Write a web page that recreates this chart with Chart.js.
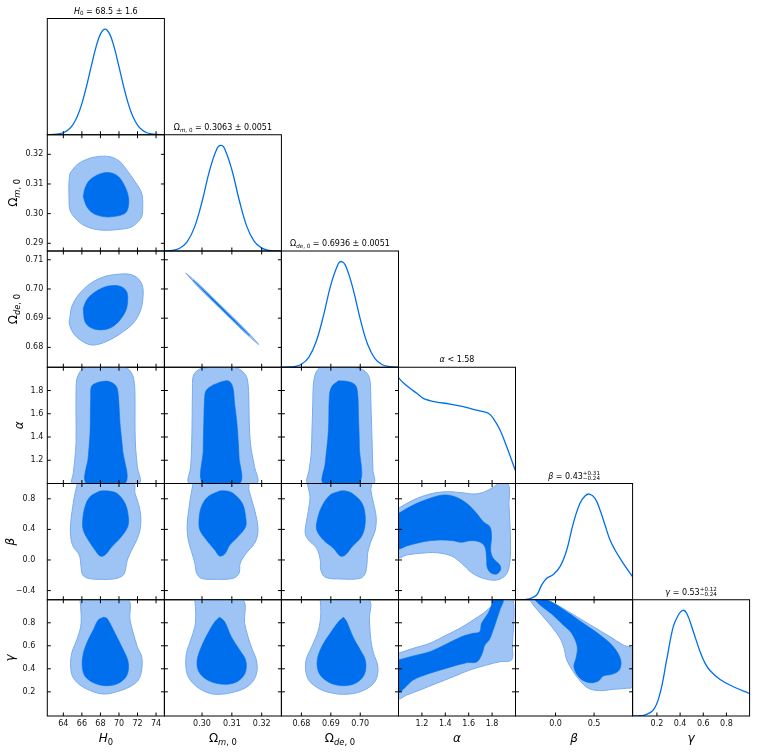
<!DOCTYPE html>
<html>
<head>
<meta charset="utf-8">
<script src="https://cdn.jsdelivr.net/npm/chart.js@4.4.1/dist/chart.umd.min.js"></script>
<style>
    html, body { margin: 0; padding: 0; background: #fff; }
    #wrap { position: relative; width: 757px; height: 752px; }
    #wrap canvas { position: absolute; left: 0; top: 0; }
</style>
</head>
<body>
<div id="wrap"></div>
<script>
// ---- 1D marginals (peak normalised to 1) ----
const h0Grid = [62.3, 63, 63.5, 64, 64.5, 65, 65.5, 66, 66.5, 67, 67.5, 68, 68.5, 69, 69.5, 70, 70.5, 71, 71.5, 72, 72.5, 73, 73.5, 74, 74.9];
const h0Dens = [0.001, 0.003, 0.008, 0.019, 0.044, 0.091, 0.172, 0.295, 0.458, 0.644, 0.822, 0.952, 1, 0.952, 0.822, 0.644, 0.458, 0.295, 0.172, 0.091, 0.044, 0.019, 0.008, 0.003, 0.001];
const omGrid = [0.2874, 0.290, 0.2925, 0.295, 0.2975, 0.300, 0.3025, 0.305, 0.3063, 0.3075, 0.310, 0.3125, 0.315, 0.3175, 0.320, 0.3225, 0.325, 0.3266];
const omDens = [0.001, 0.006, 0.026, 0.086, 0.226, 0.466, 0.758, 0.968, 1, 0.973, 0.769, 0.478, 0.233, 0.090, 0.027, 0.006, 0.001, 0.0004];
const odeGrid = [0.6733, 0.675, 0.6775, 0.680, 0.6825, 0.685, 0.6875, 0.690, 0.6925, 0.6936, 0.695, 0.6975, 0.700, 0.7025, 0.705, 0.7075, 0.710, 0.713];
const odeDens = [0.0004, 0.0013, 0.0069, 0.029, 0.094, 0.241, 0.489, 0.780, 0.977, 1, 0.963, 0.747, 0.455, 0.218, 0.082, 0.024, 0.0057, 0.0007];
const alGrid = [1.0, 1.041, 1.098, 1.156, 1.212, 1.269, 1.326, 1.44, 1.554, 1.64, 1.725, 1.768, 1.81, 1.868, 1.925, 2.0];
const alDens = [1.0, 0.954, 0.901, 0.853, 0.806, 0.784, 0.771, 0.752, 0.727, 0.702, 0.679, 0.664, 0.617, 0.506, 0.348, 0.12];
const beGrid = [-0.52, -0.4, -0.332, -0.245, -0.18, -0.115, -0.029, 0.058, 0.145, 0.23, 0.317, 0.382, 0.438, 0.512, 0.577, 0.642, 0.707, 0.772, 0.837, 0.923, 1.0];
const beDens = [0, 0.002, 0.01, 0.045, 0.14, 0.203, 0.24, 0.313, 0.471, 0.723, 0.912, 0.981, 1, 0.96, 0.849, 0.707, 0.565, 0.471, 0.392, 0.297, 0.218];
const gaGrid = [-0.01, 0.082, 0.169, 0.227, 0.284, 0.341, 0.385, 0.423, 0.457, 0.514, 0.572, 0.615, 0.658, 0.745, 0.86, 1.0];
const gaDens = [0, 0.005, 0.057, 0.215, 0.53, 0.845, 0.956, 1, 0.972, 0.8, 0.61, 0.5, 0.43, 0.345, 0.277, 0.213];

// ---- 2D contours [x, y]: inner = 68%, outer = 95% ----
const omH0Outer = [[64.72,0.3136],[65.44,0.3164],[66.52,0.3183],[67.6,0.3192],[69.03,0.3192],[70.11,0.3175],[70.84,0.3147],[71.73,0.3108],[72.45,0.3069],[72.56,0.3024],[72.45,0.2990],[71.91,0.2968],[71.19,0.2953],[69.39,0.2945],[67.96,0.2945],[66.52,0.2956],[65.44,0.2979],[64.72,0.3012],[64.61,0.3057],[64.61,0.3108]];
const omH0Inner = [[66.15,0.3057],[66.34,0.3086],[66.88,0.3114],[67.96,0.3134],[69.03,0.3138],[69.93,0.3125],[70.65,0.3091],[71.01,0.3057],[71.01,0.3024],[70.65,0.3001],[69.39,0.2990],[68.31,0.2990],[67.23,0.3001],[66.52,0.3024]];

const odeH0Outer = [[64.72,0.6905],[64.9,0.6939],[65.61,0.6979],[66.88,0.7018],[68.31,0.7041],[69.76,0.7050],[71.19,0.7050],[72.09,0.7035],[72.56,0.7007],[72.56,0.6962],[72.27,0.6922],[71.55,0.6883],[70.47,0.6854],[69.39,0.6832],[67.96,0.6812],[66.88,0.6809],[65.8,0.6826],[65.07,0.6849],[64.64,0.6883]];
const odeH0Inner = [[66.15,0.6934],[66.52,0.6962],[67.23,0.6985],[68.31,0.7005],[69.39,0.7012],[70.3,0.7007],[70.84,0.6990],[70.94,0.6962],[70.76,0.6928],[70.11,0.6894],[69.22,0.6869],[68.14,0.6860],[67.06,0.6866],[66.34,0.6888]];

const odeOmOuter = [[0.2945,0.7055],[0.2990,0.7016],[0.3063,0.6943],[0.3140,0.6866],[0.3190,0.6810],[0.3140,0.6854],[0.3063,0.6931],[0.2990,0.7004]];
const odeOmInner = [[0.2970,0.7030],[0.3063,0.6940],[0.3160,0.6840],[0.3063,0.6934]];

const alH0Outer = [[66.34,2.0],[65.8,1.962],[65.44,1.890],[65.37,1.776],[65.37,1.575],[65.37,1.346],[65.23,1.202],[65.07,1.088],[65.01,1.0],[72.13,1.0],[71.98,1.145],[71.81,1.288],[71.73,1.460],[71.73,1.718],[71.66,1.862],[71.37,1.948],[70.65,2.0]];
const alH0Inner = [[67.77,1.871],[67.06,1.839],[66.95,1.747],[66.88,1.432],[66.69,1.231],[66.52,1.0],[70.65,1.0],[70.4,1.288],[70.11,1.518],[69.93,1.753],[69.68,1.839],[68.82,1.879]];

const alOmOuter = [[0.2998,1.991],[0.2982,1.968],[0.2970,1.919],[0.2968,1.804],[0.2967,1.575],[0.2965,1.288],[0.2962,1.145],[0.2959,1.0],[0.3182,1.0],[0.3176,1.145],[0.3165,1.288],[0.3159,1.460],[0.3157,1.718],[0.3154,1.862],[0.3146,1.933],[0.3126,1.982],[0.3104,2.0],[0.3037,2.0]];
const alOmInner = [[0.3037,1.847],[0.3015,1.804],[0.3009,1.747],[0.3006,1.518],[0.3004,1.288],[0.3004,1.0],[0.3126,1.0],[0.3124,1.231],[0.3117,1.518],[0.3109,1.690],[0.3104,1.819],[0.3093,1.876],[0.3076,1.882]];

const alOdeOuter = [[0.6864,2.0],[0.6850,1.959],[0.6841,1.862],[0.6839,1.718],[0.6836,1.460],[0.6833,1.245],[0.6826,1.116],[0.6823,1.0],[0.7044,1.0],[0.7043,1.116],[0.7040,1.374],[0.7036,1.718],[0.7034,1.865],[0.7027,1.933],[0.7007,1.981],[0.6973,2.0]];
const alOdeInner = [[0.6926,1.884],[0.6903,1.833],[0.6895,1.747],[0.6892,1.460],[0.6881,1.174],[0.6875,1.0],[0.6995,1.0],[0.6997,1.317],[0.6994,1.575],[0.6991,1.776],[0.6983,1.847],[0.6960,1.876]];

const beH0Outer = [[65.51,1.0],[65.26,0.872],[65.01,0.697],[64.79,0.480],[64.79,0.304],[65.07,0.174],[65.72,0.065],[65.91,-0.088],[66.09,-0.196],[66.69,-0.240],[67.96,-0.253],[69.57,-0.245],[70.47,-0.196],[70.76,-0.088],[70.9,0.0],[71.37,0.130],[71.91,0.261],[72.27,0.392],[72.35,0.566],[72.09,0.741],[71.73,0.872],[71.55,1.0]];
const beH0Inner = [[67.96,0.902],[66.88,0.827],[66.34,0.697],[66.09,0.523],[66.15,0.392],[66.69,0.261],[67.42,0.130],[67.96,0.052],[68.49,0.065],[69.22,0.174],[70.11,0.283],[70.94,0.435],[71.01,0.566],[70.65,0.741],[69.76,0.872],[68.85,0.902]];

const beOmOuter = [[0.2970,1.0],[0.2962,0.827],[0.2954,0.610],[0.2950,0.435],[0.2954,0.261],[0.2965,0.108],[0.2976,-0.043],[0.2982,-0.174],[0.2998,-0.240],[0.3048,-0.253],[0.3104,-0.240],[0.3124,-0.174],[0.3128,-0.043],[0.3148,0.087],[0.3176,0.218],[0.3187,0.349],[0.3184,0.523],[0.3170,0.741],[0.3157,0.915],[0.3154,1.0]];
const beOmInner = [[0.3059,0.902],[0.3020,0.827],[0.2998,0.697],[0.2990,0.523],[0.2993,0.392],[0.3015,0.261],[0.3043,0.130],[0.3059,0.052],[0.3076,0.078],[0.3093,0.196],[0.3120,0.304],[0.3146,0.435],[0.3146,0.566],[0.3135,0.741],[0.3104,0.872],[0.3082,0.902]];

const beOdeOuter = [[0.6820,1.0],[0.6829,0.827],[0.6824,0.653],[0.6816,0.480],[0.6813,0.349],[0.6824,0.261],[0.6852,0.153],[0.6864,0.0],[0.6866,-0.131],[0.6881,-0.226],[0.6932,-0.248],[0.7000,-0.240],[0.7017,-0.174],[0.7023,-0.043],[0.7025,0.087],[0.7034,0.218],[0.7051,0.392],[0.7054,0.566],[0.7045,0.741],[0.7036,0.915],[0.7036,1.0]];
const beOdeInner = [[0.6932,0.902],[0.6898,0.850],[0.6869,0.697],[0.6854,0.523],[0.6852,0.392],[0.6875,0.261],[0.6909,0.153],[0.6932,0.052],[0.6949,0.065],[0.6972,0.174],[0.7000,0.283],[0.7013,0.392],[0.7017,0.566],[0.7006,0.741],[0.6972,0.872],[0.6949,0.902]];

const beAlOuter = [[1.0,0.676],[1.126,0.784],[1.269,0.863],[1.411,0.893],[1.539,0.880],[1.653,0.863],[1.738,0.893],[1.809,0.950],[1.852,1.0],[1.937,1.0],[1.945,0.697],[1.957,0.261],[1.951,-0.043],[1.917,-0.196],[1.838,-0.262],[1.724,-0.240],[1.625,-0.166],[1.539,-0.043],[1.454,0.052],[1.326,0.095],[1.183,0.087],[1.070,0.065],[1.0,0.035]];
const beAlInner = [[1.0,0.610],[1.126,0.719],[1.269,0.806],[1.382,0.850],[1.482,0.827],[1.582,0.741],[1.667,0.610],[1.724,0.501],[1.781,0.435],[1.795,0.304],[1.787,0.130],[1.809,0.022],[1.866,-0.066],[1.872,-0.131],[1.838,-0.183],[1.787,-0.166],[1.758,-0.096],[1.753,0.022],[1.738,0.174],[1.689,0.239],[1.610,0.252],[1.539,0.231],[1.468,0.252],[1.354,0.261],[1.212,0.239],[1.070,0.183],[1.0,0.153]];

const gaH0Outer = [[65.8,1.0],[65.91,0.882],[65.87,0.766],[65.44,0.650],[64.9,0.535],[64.79,0.418],[65.01,0.331],[65.8,0.259],[67.23,0.201],[68.49,0.181],[69.76,0.201],[71.19,0.245],[72.09,0.303],[72.45,0.390],[72.45,0.505],[71.98,0.592],[71.55,0.709],[71.19,0.824],[70.94,1.0]];
const gaH0Inner = [[68.31,0.848],[67.77,0.824],[67.23,0.737],[66.52,0.622],[66.09,0.505],[66.09,0.390],[66.52,0.318],[67.6,0.268],[68.68,0.253],[69.76,0.268],[70.65,0.318],[71.01,0.390],[70.94,0.477],[70.47,0.564],[69.76,0.679],[69.03,0.795],[68.68,0.839]];

const gaOmOuter = [[0.2976,1.0],[0.2979,0.882],[0.2976,0.766],[0.2962,0.650],[0.2948,0.535],[0.2946,0.418],[0.2954,0.331],[0.2982,0.245],[0.3026,0.187],[0.3065,0.179],[0.3104,0.196],[0.3143,0.231],[0.3170,0.289],[0.3184,0.376],[0.3182,0.477],[0.3167,0.578],[0.3154,0.679],[0.3143,0.795],[0.3135,1.0]];
const gaOmInner = [[0.3059,0.848],[0.3043,0.809],[0.3020,0.709],[0.2998,0.592],[0.2984,0.477],[0.2987,0.390],[0.3009,0.318],[0.3048,0.274],[0.3093,0.268],[0.3126,0.303],[0.3146,0.375],[0.3146,0.477],[0.3126,0.564],[0.3098,0.679],[0.3076,0.809]];

const gaOdeOuter = [[0.6864,1.0],[0.6866,0.882],[0.6858,0.737],[0.6835,0.592],[0.6816,0.477],[0.6816,0.361],[0.6829,0.288],[0.6864,0.222],[0.6909,0.187],[0.6954,0.179],[0.7000,0.201],[0.7040,0.259],[0.7057,0.331],[0.7059,0.433],[0.7045,0.535],[0.7036,0.650],[0.7031,0.824],[0.7028,1.0]];
const gaOdeInner = [[0.6943,0.848],[0.6926,0.809],[0.6898,0.709],[0.6869,0.592],[0.6854,0.477],[0.6858,0.375],[0.6881,0.303],[0.6920,0.259],[0.6966,0.259],[0.7000,0.303],[0.7017,0.375],[0.7017,0.477],[0.7000,0.564],[0.6975,0.679],[0.6954,0.809]];

const gaAlOuter = [[1.0,0.535],[1.126,0.578],[1.269,0.622],[1.411,0.694],[1.525,0.752],[1.638,0.824],[1.724,0.882],[1.809,0.954],[1.875,1.0],[1.98,1.0],[1.974,0.592],[1.966,0.477],[1.866,0.462],[1.753,0.433],[1.610,0.390],[1.468,0.331],[1.326,0.274],[1.183,0.216],[1.070,0.172],[1.0,0.144]];
const gaAlInner = [[1.0,0.477],[1.126,0.512],[1.269,0.549],[1.411,0.616],[1.539,0.679],[1.638,0.708],[1.695,0.722],[1.71,0.795],[1.766,0.882],[1.795,0.954],[1.809,1.0],[1.894,1.0],[1.866,0.911],[1.838,0.824],[1.809,0.737],[1.775,0.650],[1.738,0.607],[1.71,0.520],[1.667,0.459],[1.582,0.453],[1.411,0.405],[1.269,0.361],[1.126,0.303],[1.0,0.201]];

const gaBeOuter = [[-0.332,1.0],[-0.137,1.0],[0.058,0.940],[0.274,0.853],[0.490,0.766],[0.707,0.679],[0.879,0.607],[1.0,0.569],[1.0,0.245],[0.923,0.231],[0.750,0.222],[0.577,0.210],[0.425,0.231],[0.317,0.297],[0.222,0.384],[0.145,0.477],[0.110,0.578],[0.058,0.665],[-0.050,0.766],[-0.180,0.868],[-0.289,0.954]];
const gaBeInner = [[-0.267,1.0],[-0.115,1.0],[0.145,0.896],[0.360,0.795],[0.577,0.694],[0.750,0.592],[0.846,0.477],[0.827,0.390],[0.729,0.352],[0.620,0.338],[0.555,0.294],[0.447,0.279],[0.317,0.318],[0.239,0.413],[0.265,0.491],[0.282,0.592],[0.209,0.709],[0.100,0.781],[-0.050,0.876],[-0.202,0.954]];

// ---- axis limits and ticks ----
const h0Lim = [62.27, 74.9];
const omLim = [0.2874, 0.3266];
const odeLim = [0.6732, 0.713];
const alLim = [1.0, 2.0];
const beLim = [-0.52, 1.0];
const gaLim = [-0.01, 1.0];

const h0Ticks = [64, 66, 68, 70, 72, 74];
const omXTicks = [0.30, 0.31, 0.32];
const omYTicks = [0.29, 0.30, 0.31, 0.32];
const odeXTicks = [0.68, 0.69, 0.70];
const odeYTicks = [0.68, 0.69, 0.70, 0.71];
const alTicks = [1.2, 1.4, 1.6, 1.8];
const beXTicks = [0.0, 0.5];
const beYTicks = [-0.4, 0.0, 0.4, 0.8];
const gaTicks = [0.2, 0.4, 0.6, 0.8];

// mathtext-ish labels: [text, style]  i=italic b=sub s=stacked sup|sub
const h0Label = [['H', 'i'], ['0', 'b']];
const omLabel = [['Ω', ''], ['m', 'bi'], [', 0', 'b']];
const odeLabel = [['Ω', ''], ['de', 'bi'], [', 0', 'b']];
const alLabel = [['α', 'i']];
const beLabel = [['β', 'i']];
const gaLabel = [['γ', 'i']];

const h0Title = h0Label.concat([[' = 68.5 ± 1.6', '']]);
const omTitle = omLabel.concat([[' = 0.3063 ± 0.0051', '']]);
const odeTitle = odeLabel.concat([[' = 0.6936 ± 0.0051', '']]);
const alTitle = alLabel.concat([[' < 1.58', '']]);
const beTitle = beLabel.concat([[' = 0.43', ''], ['+0.31|−0.24', 's']]);
const gaTitle = gaLabel.concat([[' = 0.53', ''], ['+0.12|−0.24', 's']]);

const W = 757, H = 752;
const colX = [47.3, 164.4, 281.4, 398.5, 515.5, 632.6, 749.6];
const rowY = [18.5, 134.75, 251, 367.25, 483.5, 599.75, 716];
const BLUE = '#006FED', LIGHT = '#9DC4F5', EDGE = '#78ACEF';

const axes = [
    {lim: h0Lim, xt: h0Ticks, yt: [], dec: 0, grid: h0Grid, dens: h0Dens, label: h0Label, title: h0Title},
    {lim: omLim, xt: omXTicks, yt: omYTicks, dec: 2, grid: omGrid, dens: omDens, label: omLabel, title: omTitle, pad: 4, lx: 17},
    {lim: odeLim, xt: odeXTicks, yt: odeYTicks, dec: 2, grid: odeGrid, dens: odeDens, label: odeLabel, title: odeTitle, pad: 4, lx: 17},
    {lim: alLim, xt: alTicks, yt: alTicks, dec: 1, grid: alGrid, dens: alDens, label: alLabel, title: alTitle, pad: 4, lx: 23},
    {lim: beLim, xt: beXTicks, yt: beYTicks, dec: 1, grid: beGrid, dens: beDens, label: beLabel, title: beTitle, pad: 12, lx: 14},
    {lim: gaLim, xt: gaTicks, yt: gaTicks, dec: 1, grid: gaGrid, dens: gaDens, label: gaLabel, title: gaTitle, pad: 12, lx: 14}
];

// row,col -> [inner, outer]
const contours = {
    '1,0': [omH0Inner, omH0Outer],
    '2,0': [odeH0Inner, odeH0Outer], '2,1': [odeOmInner, odeOmOuter],
    '3,0': [alH0Inner, alH0Outer], '3,1': [alOmInner, alOmOuter], '3,2': [alOdeInner, alOdeOuter],
    '4,0': [beH0Inner, beH0Outer], '4,1': [beOmInner, beOmOuter], '4,2': [beOdeInner, beOdeOuter], '4,3': [beAlInner, beAlOuter],
    '5,0': [gaH0Inner, gaH0Outer], '5,1': [gaOmInner, gaOmOuter], '5,2': [gaOdeInner, gaOdeOuter], '5,3': [gaAlInner, gaAlOuter], '5,4': [gaBeInner, gaBeOuter]
};

function fmt(v, dec) {
    return v.toFixed(dec).replace('-', '−');
}

function closed(a) {
    return a.concat([a[0]]).map(p => ({x: p[0], y: p[1]}));
}

function mathFont(size, italic) {
    return (italic ? 'italic ' : '') + size + 'px "DejaVu Sans"';
}

// draws a label with sub/superscripts centred at x, baseline y
function drawMath(ctx, parts, x, y, size, rotate) {
    const items = parts.map(([t, st]) => {
        if (st === 's') {
            const [up, lo] = t.split('|');
            ctx.font = mathFont(size * 0.7, false);
            return {st, up, lo, w: Math.max(ctx.measureText(up).width, ctx.measureText(lo).width)};
        }
        const f = mathFont(st.includes('b') ? size * 0.7 : size, st.includes('i'));
        ctx.font = f;
        return {st, t, f, w: ctx.measureText(t).width};
    });
    const total = items.reduce((s, it) => s + it.w, 0);
    ctx.save();
    ctx.translate(x, y);
    if (rotate) ctx.rotate(-Math.PI / 2);
    ctx.fillStyle = '#000';
    ctx.textAlign = 'left';
    ctx.textBaseline = 'alphabetic';
    let cx = -total / 2;
    items.forEach(it => {
        if (it.st === 's') {
            ctx.font = mathFont(size * 0.7, false);
            ctx.fillText(it.up, cx, -size * 0.48);
            ctx.fillText(it.lo, cx, size * 0.15);
        } else {
            ctx.font = it.f;
            ctx.fillText(it.t, cx, it.st.includes('b') ? size * 0.22 : 0);
        }
        cx += it.w;
    });
    ctx.restore();
}

// frame, inward ticks on the sides, titles and axis names
const panelFrame = {
    id: 'panelFrame',
    afterDraw(chart, args, o) {
        const {ctx, chartArea: a, scales: {x, y}} = chart;
        const tl = 3.5;
        ctx.save();
        ctx.strokeStyle = '#000';
        ctx.lineWidth = 1;
        ctx.beginPath();
        o.xt.forEach(v => {
            const px = x.getPixelForValue(v);
            ctx.moveTo(px, a.bottom); ctx.lineTo(px, a.bottom - tl);
            if (o.box) { ctx.moveTo(px, a.top); ctx.lineTo(px, a.top + tl); }
        });
        if (o.box) {
            o.yt.forEach(v => {
                const py = y.getPixelForValue(v);
                ctx.moveTo(a.left, py); ctx.lineTo(a.left + tl, py);
                ctx.moveTo(a.right, py); ctx.lineTo(a.right - tl, py);
            });
        }
        ctx.stroke();
        ctx.strokeRect(a.left, a.top, a.right - a.left, a.bottom - a.top);
        if (o.title) drawMath(ctx, o.title, (a.left + a.right) / 2, a.top - 5, 8, false);
        if (o.xlabel) drawMath(ctx, o.xlabel, (a.left + a.right) / 2, 742, 12, false);
        if (o.ylabel) drawMath(ctx, o.ylabel, o.ylx, (a.top + a.bottom) / 2, 12, true);
        ctx.restore();
    }
};

function addPanel(r, c) {
    const cv = document.createElement('canvas');
    cv.width = W;
    cv.height = H;
    document.getElementById('wrap').appendChild(cv);

    const diag = r === c;
    const showX = r === 5;
    const showY = c === 0 && !diag;
    const xa = axes[c], ya = axes[r];
    const tickFont = {family: 'DejaVu Sans', size: 8};

    let datasets;
    if (diag) {
        datasets = [{
            data: xa.grid.map((g, k) => ({x: g, y: xa.dens[k]})),
            showLine: true,
            borderColor: BLUE,
            borderWidth: 1.3,
            pointRadius: 0,
            tension: 0.4,
            fill: false
        }];
    } else {
        const [inner, outer] = contours[r + ',' + c];
        // index 0 is drawn last, so the 68% region goes first
        datasets = [
            {data: closed(inner), showLine: true, pointRadius: 0, tension: 0.35,
             backgroundColor: BLUE, borderColor: BLUE, borderWidth: 0.6, fill: 'shape'},
            {data: closed(outer), showLine: true, pointRadius: 0, tension: 0.35,
             backgroundColor: LIGHT, borderColor: EDGE, borderWidth: 1, fill: 'shape'}
        ];
    }

    new Chart(cv, {
        type: 'scatter',
        data: {datasets: datasets},
        options: {
            responsive: false,
            animation: false,
            events: [],
            layout: {
                padding: {
                    left: showY ? 0 : colX[c],
                    right: W - colX[c + 1],
                    top: rowY[r],
                    bottom: showX ? 0 : H - rowY[r + 1]
                }
            },
            plugins: {
                legend: {display: false},
                tooltip: {enabled: false},
                panelFrame: {
                    xt: xa.xt,
                    yt: ya.yt,
                    box: !diag,
                    title: diag ? xa.title : null,
                    xlabel: showX ? xa.label : null,
                    ylabel: showY ? ya.label : null,
                    ylx: ya.lx
                }
            },
            scales: {
                x: {
                    type: 'linear',
                    min: xa.lim[0],
                    max: xa.lim[1],
                    display: showX,
                    grid: {display: false, drawTicks: false},
                    border: {display: false},
                    afterFit: s => { if (showX) s.height = H - rowY[6]; },
                    afterBuildTicks: s => { s.ticks = xa.xt.map(v => ({value: v})); },
                    ticks: {
                        autoSkip: false, maxRotation: 0, minRotation: 0, padding: 3,
                        color: '#111', font: tickFont,
                        callback: v => fmt(v, xa.dec)
                    }
                },
                y: {
                    type: 'linear',
                    min: diag ? 0 : ya.lim[0],
                    max: diag ? 1.1 : ya.lim[1],
                    display: showY,
                    grid: {display: false, drawTicks: false},
                    border: {display: false},
                    afterFit: s => { if (showY) s.width = colX[0]; },
                    afterBuildTicks: s => { s.ticks = ya.yt.map(v => ({value: v})); },
                    ticks: {
                        autoSkip: false, padding: ya.pad || 4,
                        color: '#111', font: tickFont,
                        callback: v => fmt(v, ya.dec)
                    }
                }
            }
        },
        plugins: [panelFrame]
    });
}

for (let r = 0; r < 6; r++) {
    for (let c = 0; c <= r; c++) {
        addPanel(r, c);
    }
}
</script>
</body>
</html>
